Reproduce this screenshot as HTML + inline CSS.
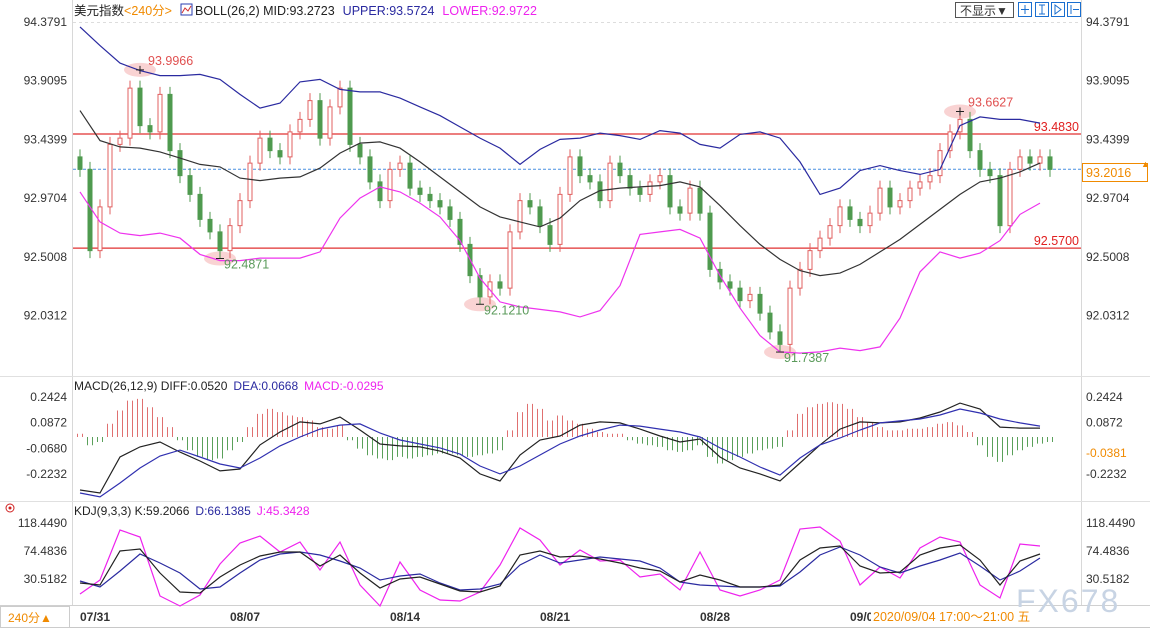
<!DOCTYPE html>
<html><head><meta charset="utf-8">
<style>
html,body{margin:0;padding:0;background:#fff;width:1150px;height:629px;overflow:hidden}
svg{display:block;font-family:"Liberation Sans","Noto Sans CJK SC",sans-serif}
</style></head>
<body>
<svg id="chart" width="1150" height="629" viewBox="0 0 1150 629" xmlns="http://www.w3.org/2000/svg">
  <rect x="0" y="0" width="1150" height="629" fill="#fff"/>
  <line x1="72.5" y1="0" x2="72.5" y2="605" stroke="#d8d8d8"/>
  <line x1="1081.5" y1="0" x2="1081.5" y2="605" stroke="#d8d8d8"/>
  <line x1="73" y1="22.5" x2="1081" y2="22.5" stroke="#ddd" stroke-dasharray="3,3"/>
  <line x1="0" y1="376.5" x2="1150" y2="376.5" stroke="#e0e0e0"/>
  <line x1="0" y1="501.5" x2="1150" y2="501.5" stroke="#e0e0e0"/>
  <line x1="0" y1="605.5" x2="1150" y2="605.5" stroke="#d0d0d0"/>
  <line x1="0" y1="627.5" x2="1150" y2="627.5" stroke="#c8c8c8"/>

  <g id="axes" font-size="12" fill="#333"></g>
  <text x="1016" y="612" font-size="32" fill="#c8d4e4" letter-spacing="2">FX678</text>
  <g id="plot"></g>

  <text x="74" y="15" font-size="12.5"><tspan fill="#222">美元指数</tspan><tspan fill="#f08a00">&lt;240分&gt;</tspan></text>
  <rect x="181" y="4" width="11" height="11" fill="#fff" stroke="#2a3cb0"/>
  <polyline points="182,13 185,8 188,11 191,6" fill="none" stroke="#d03030"/>
  <text x="195" y="15" font-size="12.5"><tspan fill="#222">BOLL(26,2) MID:93.2723</tspan><tspan fill="#2a2aa0" dx="8">UPPER:93.5724</tspan><tspan fill="#ee22ee" dx="8">LOWER:92.9722</tspan></text>
  <rect x="955.5" y="2.5" width="58" height="15" fill="#fff" stroke="#555"/>
  <text x="960" y="15" font-size="12" fill="#333">不显示▼</text>
  <g fill="none" stroke="#1a6fd0">
    <rect x="1018.5" y="2.5" width="13" height="14"/>
    <rect x="1035.5" y="2.5" width="13" height="14"/>
    <rect x="1051.5" y="2.5" width="13" height="14"/>
    <rect x="1067.5" y="2.5" width="13" height="14"/>
    <path d="M1025 5v9M1021 9.5h8M1042 5v9M1039 5h6M1039 14h6M1055 5v9l6-4.5z M1071 5v9M1073 9.5h6"/>
  </g>
  <text x="74" y="390" font-size="12"><tspan fill="#222">MACD(26,12,9) DIFF:0.0520</tspan><tspan fill="#2a2aa0" dx="6">DEA:0.0668</tspan><tspan fill="#ee22ee" dx="6">MACD:-0.0295</tspan></text>
  <text x="74" y="515" font-size="12"><tspan fill="#222">KDJ(9,3,3) K:59.2066</tspan><tspan fill="#2a2aa0" dx="6">D:66.1385</tspan><tspan fill="#ee22ee" dx="6">J:45.3428</tspan></text>
  <g><circle cx="10" cy="508" r="4" fill="none" stroke="#d02020"/><circle cx="10" cy="508" r="1.5" fill="#d02020"/></g>

  <rect x="0.5" y="606.5" width="69" height="21" fill="#fff" stroke="#ccc"/>
  <text x="8" y="622" font-size="12" fill="#f08a00">240分▲</text>
  <g id="dates" font-size="12" font-weight="bold" fill="#333"></g>
  <rect x="871" y="607" width="153" height="19" fill="#fff"/>
  <text x="873" y="621" font-size="12.5" fill="#f08a00">2020/09/04 17:00～21:00 五</text>

  <rect x="1082.5" y="163.5" width="65" height="18" fill="#fff" stroke="#f08a00"/>
  <text x="1086" y="177" font-size="12.5" fill="#f08a00">93.2016</text>
  <text x="1141" y="167" font-size="9" fill="#f08a00">▲</text>
  <text x="1086" y="457" font-size="12" fill="#f08a00">-0.0381</text>
</svg>
<script>
const priceTicks = ["94.3791","93.9095","93.4399","92.9704","92.5008","92.0312"];
const macdTicks = ["0.2424","0.0872","-0.0680","-0.2232"];
const kdjTicks = ["118.4490","74.4836","30.5182"];
const dateLabels = ["07/31","08/07","08/14","08/21","08/28","09/0"];
const dateBarIdx = [1,16,32,47,63,78];
const closes = [93.20,92.55,92.90,93.40,93.45,93.85,93.55,93.50,93.80,93.35,93.15,93.00,92.80,92.70,92.55,92.75,92.95,93.25,93.45,93.35,93.30,93.50,93.60,93.75,93.45,93.70,93.85,93.40,93.30,93.10,92.95,93.20,93.25,93.05,93.00,92.95,92.90,92.80,92.60,92.35,92.18,92.30,92.25,92.70,92.95,92.90,92.75,92.60,93.00,93.30,93.15,93.10,92.95,93.25,93.15,93.05,93.00,93.10,93.15,92.90,92.85,93.05,92.85,92.40,92.30,92.25,92.15,92.20,92.05,91.90,91.80,92.25,92.40,92.55,92.65,92.75,92.90,92.80,92.75,92.85,93.05,92.90,92.95,93.05,93.10,93.15,93.35,93.50,93.60,93.35,93.20,93.15,92.75,93.20,93.30,93.25,93.30,93.20];
const bollUpper = [94.34,94.19,94.05,93.99,93.95,93.95,93.96,93.92,93.80,93.69,93.73,93.90,93.92,93.84,93.82,93.82,93.77,93.70,93.63,93.54,93.45,93.37,93.24,93.36,93.44,93.45,93.49,93.47,93.44,93.51,93.49,93.40,93.37,93.48,93.50,93.45,93.26,93.00,93.05,93.19,93.23,93.19,93.16,93.20,93.55,93.62,93.60,93.60,93.57];
const bollMid = [93.67,93.43,93.38,93.37,93.34,93.29,93.24,93.22,93.13,93.11,93.13,93.14,93.21,93.33,93.41,93.42,93.37,93.26,93.14,93.02,92.90,92.82,92.78,92.74,92.81,92.95,93.03,93.05,93.06,93.07,93.10,93.06,92.91,92.75,92.60,92.48,92.39,92.35,92.37,92.44,92.54,92.64,92.76,92.88,93.00,93.10,93.13,93.18,93.25];
const bollLower = [93.02,92.78,92.69,92.67,92.69,92.65,92.52,92.47,92.47,92.49,92.49,92.49,92.54,92.81,92.97,93.06,93.02,92.93,92.82,92.63,92.33,92.14,92.10,92.08,92.06,92.02,92.07,92.27,92.68,92.70,92.72,92.65,92.35,92.09,91.87,91.74,91.73,91.74,91.77,91.75,91.78,92.01,92.38,92.54,92.49,92.53,92.63,92.84,92.93];
const macdHist = [0.02,-0.05,-0.03,0.08,0.16,0.22,0.23,0.18,0.12,0.06,-0.02,-0.08,-0.12,-0.14,-0.13,-0.08,-0.03,0.06,0.14,0.17,0.15,0.13,0.12,0.10,0.06,0.05,0.07,-0.02,-0.07,-0.11,-0.13,-0.14,-0.12,-0.13,-0.12,-0.11,-0.10,-0.10,-0.11,-0.12,-0.11,-0.10,-0.08,0.04,0.15,0.20,0.17,0.10,0.13,0.10,0.08,0.05,0.03,0.02,0.02,-0.02,-0.04,-0.05,-0.06,-0.08,-0.09,-0.08,-0.05,-0.12,-0.16,-0.14,-0.12,-0.10,-0.08,-0.07,-0.06,0.04,0.14,0.18,0.20,0.21,0.20,0.17,0.12,0.09,0.06,0.04,0.04,0.05,0.05,0.06,0.08,0.09,0.07,0.03,-0.05,-0.12,-0.15,-0.11,-0.08,-0.06,-0.04,-0.03];
const macdDiff = [-0.320,-0.338,-0.121,-0.060,-0.030,-0.091,-0.145,-0.205,-0.193,-0.048,0.030,0.091,0.079,0.121,0.042,-0.042,-0.054,-0.060,-0.085,-0.127,-0.223,-0.266,-0.109,-0.018,0.006,0.072,0.091,0.085,0.048,0.006,-0.030,-0.012,-0.121,-0.187,-0.223,-0.266,-0.157,-0.048,0.048,0.091,0.085,0.091,0.115,0.151,0.205,0.169,0.060,0.054,0.054];
const macdDea = [-0.338,-0.362,-0.278,-0.187,-0.115,-0.079,-0.121,-0.163,-0.187,-0.127,-0.054,0,0.048,0.072,0.079,0.024,-0.018,-0.042,-0.066,-0.103,-0.175,-0.223,-0.175,-0.109,-0.042,0.006,0.042,0.072,0.066,0.048,0.030,0,-0.066,-0.121,-0.181,-0.230,-0.127,-0.048,-0.006,0.042,0.085,0.097,0.109,0.133,0.169,0.145,0.109,0.085,0.066];
const kdjK = [24.2,21.1,74.5,77.6,39.9,10.1,8.5,33.7,52.5,66.6,72.9,72.9,50.9,68.2,39.9,16.4,30.5,33.7,22.7,11.7,10.1,19.5,68.2,74.5,65.1,66.6,61.9,55.6,47.8,43.1,25.8,36.8,28.9,18.0,18.0,21.1,60.3,79.2,82.3,50.9,39.9,41.5,68.2,79.2,83.9,60.3,21.1,58.8,69.8];
const kdjD = [27.4,18.0,43.1,69.8,55.6,39.9,14.8,18.0,39.9,60.3,69.8,72.9,68.2,58.8,47.8,28.9,35.2,38.4,24.2,13.3,14.8,22.7,52.5,68.2,55.6,60.3,65.1,61.9,58.8,47.8,25.8,21.1,19.5,18.0,18.0,19.5,41.5,68.2,80.7,68.2,49.4,39.9,50.9,60.3,71.3,50.9,28.9,43.1,63.5];
const kdjJ = [7.0,28.9,107.5,96.5,3.8,-11.9,5.4,54.1,87.0,98.0,72.9,88.6,44.7,88.6,21.1,-11.9,57.2,13.3,-2.4,-4.0,10.1,52.5,110.6,91.8,52.5,76.1,58.8,60.3,33.7,38.4,13.3,72.9,13.3,3.8,13.3,28.9,109.0,112.2,90.2,21.1,49.4,32.1,79.2,96.5,88.6,21.1,0.7,85.5,82.3];
const levelLines = [93.4830, 92.5700];
const lastPrice = 93.2016;
const highMark = [{i:6,v:93.9966,t:"93.9966"},{i:88,v:93.6627,t:"93.6627"}];
const lowMark = [{i:14,v:92.4871,t:"92.4871"},{i:40,v:92.1210,t:"92.1210"},{i:70,v:91.7387,t:"91.7387"}];

const X0 = 80, DX = 10;
const bx = i => X0 + i * DX;
const sx = i => X0 + i * 2 * DX;
const py = p => 22 + (94.3791 - p) * 125;
const my = v => 437 - v / 0.00604;
const ky = v => 523 + (118.449 - v) / 1.570;
const NS = "http://www.w3.org/2000/svg";
const plot = document.getElementById('plot');
function mk(tag, attrs, parent) {
  const e = document.createElementNS(NS, tag);
  for (const k in attrs) e.setAttribute(k, attrs[k]);
  (parent || plot).appendChild(e);
  return e;
}
const axes = document.getElementById('axes');
function ticks(list, yf, name, skipRight) {
  list.forEach(t => {
    const y = yf(parseFloat(t)) + 4;
    const a = mk('text', {x: 67, y: y, 'text-anchor': 'end'}, axes); a.textContent = t;
    
    
    if (skipRight && skipRight.indexOf(t) >= 0) return;
    const b = mk('text', {x: 1086, y: y}, axes); b.textContent = t;
    
    
  });
}
ticks(priceTicks, py, 'price-tick');
ticks(macdTicks, my, 'macd-tick', ["-0.0680"]);
ticks(kdjTicks, ky, 'kdj-tick');
const dates = document.getElementById('dates');
dateLabels.forEach((d, k) => {
  const x = bx(dateBarIdx[k]);
  const t = mk('text', {x: x - 10, y: 621}, dates); t.textContent = d;
  
  
});
levelLines.forEach(v => {
  const l = mk('line', {x1: 73, x2: 1081, y1: py(v), y2: py(v), stroke: '#e03030', 'stroke-width': 1.2});
  
  
  const t = mk('text', {x: 1079, y: py(v) - 3, 'text-anchor': 'end', 'font-size': 12.5, fill: '#e02020'});
  t.textContent = v.toFixed(4);
  
  
});
const ll = mk('line', {x1: 73, x2: 1081, y1: py(lastPrice), y2: py(lastPrice), stroke: '#4a90e0', 'stroke-dasharray': '3,2'});


highMark.concat(lowMark).forEach(m => {
  const e = mk('ellipse', {cx: bx(m.i), cy: py(m.v), rx: 16, ry: 7, fill: '#f8c8c8', opacity: 0.8});
  
  
});
closes.forEach((c, i) => {
  const o = i === 0 ? 93.30 : closes[i - 1];
  const up = c >= o;
  const col = up ? '#e06060' : '#4f9a4f';
  const hi = Math.max(o, c) + 0.06, lo = Math.min(o, c) - 0.06;
  const x = bx(i);
  const w = mk('line', {x1: x, x2: x, y1: py(hi), y2: py(lo), stroke: col});
  
  
  const top = py(Math.max(o, c)), h = Math.max(1, Math.abs(py(o) - py(c)));
  const r = mk('rect', {x: x - 2, y: top, width: 4, height: h, fill: up ? '#fff' : col, stroke: col});
  
  
});
function line(arr, xf, yf, col, name, w) {
  const p = mk('polyline', {points: arr.map((v, i) => xf(i) + ',' + yf(v).toFixed(1)).join(' '), fill: 'none', stroke: col, 'stroke-width': w || 1.2});
  
  
}
line(bollUpper, sx, py, '#2a2aa0', 'boll-upper-line');
line(bollMid, sx, py, '#333', 'boll-mid-line');
line(bollLower, sx, py, '#ee33ee', 'boll-lower-line');
highMark.forEach(m => {
  const t = mk('text', {x: bx(m.i) + 8, y: py(m.v) - 5, 'font-size': 12.5, fill: '#e05050'});
  t.textContent = m.t;
  
  
  const c = mk('path', {d: `M${bx(m.i)-4} ${py(m.v)}h8M${bx(m.i)} ${py(m.v)-4}v8`, stroke: '#222'});
  
  
});
lowMark.forEach(m => {
  const t = mk('text', {x: bx(m.i) + 4, y: py(m.v) + 10, 'font-size': 12.5, fill: '#5a9a5a'});
  t.textContent = m.t;
  
  
  const c = mk('path', {d: `M${bx(m.i)-4} ${py(m.v)}h8`, stroke: '#222'});
  
  
});
macdHist.forEach((v, i) => {
  [-2.5, 2.5].forEach(off => {
    const l = mk('line', {x1: bx(i) + off, x2: bx(i) + off, y1: my(0), y2: my(v), stroke: v >= 0 ? '#e07070' : '#5aa05a'});
    
    
  });
});
line(macdDiff, sx, my, '#222', 'macd-diff-line');
line(macdDea, sx, my, '#3030b0', 'macd-dea-line');
line(kdjJ, sx, ky, '#ee22ee', 'kdj-j-line');
line(kdjD, sx, ky, '#2a2aa0', 'kdj-d-line');
line(kdjK, sx, ky, '#222', 'kdj-k-line');
</script>
</body></html>
